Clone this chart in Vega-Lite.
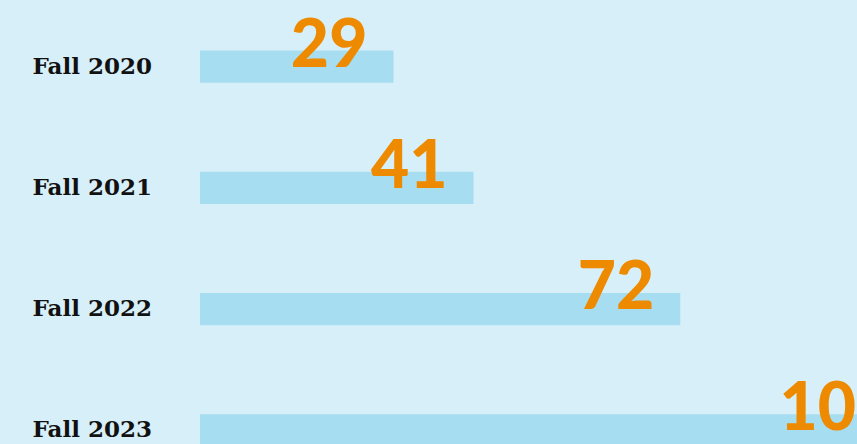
{
  "$schema": "https://vega.github.io/schema/vega-lite/v6.json",
  "width": 657,
  "height": 485,
  "autosize": "none",
  "padding": {"left": 200, "top": 6, "right": 0, "bottom": 0},
  "background": "#d7eff8",
  "config": {"view": {"stroke": null}},
  "data": {
    "values": [
      {"term": "Fall 2020", "count": 29},
      {"term": "Fall 2021", "count": 41},
      {"term": "Fall 2022", "count": 72},
      {"term": "Fall 2023", "count": 108}
    ]
  },
  "encoding": {
    "y": {
      "field": "term",
      "type": "nominal",
      "sort": null,
      "scale": {"paddingInner": 0.736, "paddingOuter": 0.368},
      "axis": {
        "title": null,
        "domain": false,
        "ticks": false,
        "grid": false,
        "labelAlign": "left",
        "labelBaseline": "middle",
        "labelPadding": 168,
        "labelFont": "DejaVu Serif",
        "labelFontWeight": "bold",
        "labelFontSize": 23,
        "labelColor": "#111111"
      }
    },
    "x": {
      "field": "count",
      "type": "quantitative",
      "scale": {"domain": [0, 98.5], "nice": false},
      "axis": null
    }
  },
  "layer": [
    {"mark": {"type": "bar", "color": "#a6ddf1"}},
    {
      "mark": {
        "type": "text",
        "align": "right",
        "baseline": "alphabetic",
        "dx": -26,
        "font": "Lato",
        "fontWeight": 900,
        "fontSize": 66,
        "color": "#ee8a00"
      },
      "encoding": {"text": {"field": "count", "type": "quantitative"}}
    }
  ]
}
